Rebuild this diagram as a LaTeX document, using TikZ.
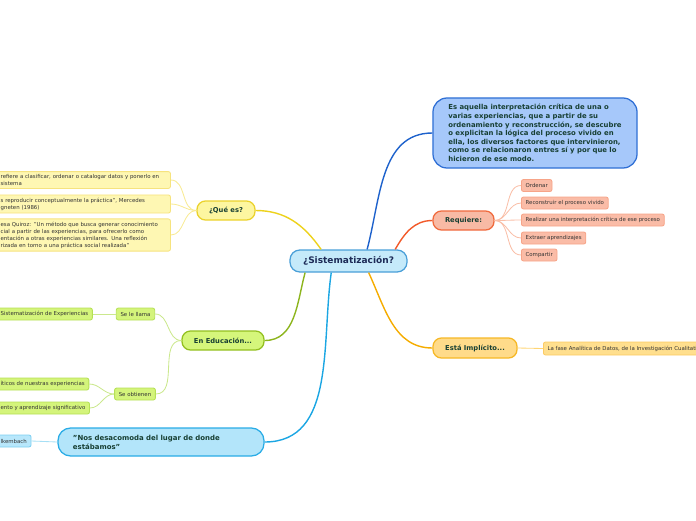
\documentclass[tikz,border=0pt]{standalone}
\usepackage{fontspec}
\setmainfont{DejaVu Sans}
\usetikzlibrary{positioning}
\definecolor{sisfill}{HTML}{C5EAFA}
\definecolor{sisline}{HTML}{4A9FD8}
\definecolor{sisink}{HTML}{1D2B57}
\definecolor{topicink}{HTML}{173F33}
\definecolor{leafink}{HTML}{333333}
\definecolor{deffill}{HTML}{A6C8FA}
\definecolor{defline}{HTML}{2F6FD5}
\definecolor{defwire}{HTML}{1E62CC}
\definecolor{reqfill}{HTML}{F8BAA5}
\definecolor{reqline}{HTML}{F06A3D}
\definecolor{reqwire}{HTML}{F25A2A}
\definecolor{reqleaf}{HTML}{FABCA7}
\definecolor{reqedge}{HTML}{F7A488}
\definecolor{reqtwig}{HTML}{F9BFA8}
\definecolor{impfill}{HTML}{FFDB8A}
\definecolor{impline}{HTML}{F6B826}
\definecolor{impwire}{HTML}{F5AC00}
\definecolor{impleaf}{HTML}{FFDF8E}
\definecolor{impedge}{HTML}{FCCB63}
\definecolor{imptwig}{HTML}{FFD574}
\definecolor{quefill}{HTML}{FDF6A0}
\definecolor{queline}{HTML}{EBD22C}
\definecolor{quewire}{HTML}{EDD21C}
\definecolor{queleaf}{HTML}{FEF7B3}
\definecolor{queedge}{HTML}{F6E37E}
\definecolor{quetwig}{HTML}{F8EA93}
\definecolor{edufill}{HTML}{D5F67B}
\definecolor{eduline}{HTML}{93C020}
\definecolor{eduwire}{HTML}{8DB51E}
\definecolor{eduleaf}{HTML}{D4F47B}
\definecolor{eduedge}{HTML}{B5E055}
\definecolor{edutwig}{HTML}{CBE88D}
\definecolor{nosfill}{HTML}{B3E5FA}
\definecolor{nosline}{HTML}{29ACE6}
\definecolor{noswire}{HTML}{1BA6E3}
\definecolor{nosleaf}{HTML}{B8E7FB}
\definecolor{nosedge}{HTML}{7CCFF1}
\definecolor{nostwig}{HTML}{A6DFF5}

\begin{document}
\begin{tikzpicture}[
                x=0.025cm, y=0.025cm,
                topic/.style={rounded corners=6pt, line width=0.9pt, inner sep=0pt,
                              minimum height=0.475cm, text=topicink,
                              font=\fontsize{4.8}{6}\selectfont\bfseries},
                leaf/.style={rounded corners=1.5pt, line width=0.6pt, align=left,
                             inner xsep=3pt, inner ysep=2pt, minimum height=0.3cm,
                             text=leafink, font=\fontsize{3.85}{5}\selectfont},
                branch/.style={line width=1pt},
                twig/.style={line width=0.6pt}
            ]

            \useasboundingbox (0,0) rectangle (696,-520);
            \clip (0,0) rectangle (696,-520);

            \node[draw=sisline, fill=sisfill, rounded corners=7pt, line width=0.9pt,
                  minimum width=2.925cm, minimum height=0.55cm, inner sep=0pt,
                  text=sisink, font=\fontsize{6.4}{8}\selectfont\bfseries] (sis) at (348.5,-261)
                {¿Sistematización?};

            % right side
            \node[draw=defline, fill=deffill, rounded corners=10pt, line width=0.9pt,
                  minimum width=5.1cm, minimum height=1.75cm, inner sep=0pt,
                  align=left, text=topicink,
                  font=\fontsize{4.9}{6.1}\selectfont\bfseries] (def) at (535,-133)
                {Es aquella interpretación crítica de una o\\
                 varias experiencias, que a partir de su\\
                 ordenamiento y reconstrucción, se descubre\\
                 o explicitan la lógica del proceso vivido en\\
                 ella, los diversos factores que intervinieron,\\
                 como se relacionaron entres sí y por que lo\\
                 hicieron de ese modo.};

            \node[topic, draw=reqline, fill=reqfill, minimum width=1.525cm] (req) at (463.5,-220.5) {Requiere:};
            \node[leaf, draw=reqedge, fill=reqleaf, anchor=west] (r1) at (521,-185.5) {Ordenar};
            \node[leaf, draw=reqedge, fill=reqleaf, anchor=west] (r2) at (521,-203) {Reconstruir el proceso vivido};
            \node[leaf, draw=reqedge, fill=reqleaf, anchor=west] (r3) at (521,-220) {Realizar una interpretación crítica de ese proceso};
            \node[leaf, draw=reqedge, fill=reqleaf, anchor=west] (r4) at (521,-238) {Extraer aprendizajes};
            \node[leaf, draw=reqedge, fill=reqleaf, anchor=west] (r5) at (521,-255) {Compartir};

            \node[topic, draw=impline, fill=impfill, minimum width=2.1cm, minimum height=0.5cm] (imp) at (475,-348) {Está Implícito...};
            \node[leaf, draw=impedge, fill=impleaf, anchor=west, minimum height=0.325cm] (i1) at (543,-348.5)
                {La fase Analítica de Datos, de la Investigación Cualitativa};

            % left side
            \node[topic, draw=queline, fill=quefill, minimum width=1.45cm] (que) at (226,-210.5) {¿Qué es?};
            \node[leaf, draw=queedge, fill=queleaf, anchor=west, text width=4.14cm] (q1) at (-4,-180)
                {refiere a clasificar, ordenar o catalogar datos y ponerlo en\\sistema};
            \node[leaf, draw=queedge, fill=queleaf, anchor=west, text width=4.14cm] (q2) at (-4,-204)
                {s reproducir  conceptualmente la práctica", Mercedes\\gneten (1986)};
            \node[leaf, draw=queedge, fill=queleaf, anchor=west, text width=4.14cm] (q3) at (-4,-235)
                {esa Quiroz: "Un método que busca generar conocimiento\\
                 cial a partir de las experiencias, para ofrecerlo como\\
                 entación a otras experiencias similares. Una reflexión\\
                 rizada en torno a una práctica social realizada"};

            \node[topic, draw=eduline, fill=edufill, minimum width=2.05cm] (edu) at (223,-340.5) {En Educación...};
            \node[leaf, draw=eduedge, fill=eduleaf] (llama) at (135.5,-314) {Se le llama};
            \node[leaf, draw=eduedge, fill=eduleaf, anchor=west] (e1) at (-4,-314) {Sistematización de Experiencias};
            \node[leaf, draw=eduedge, fill=eduleaf] (obt) at (135,-394) {Se obtienen};
            \node[leaf, draw=eduedge, fill=eduleaf, anchor=west] (o1) at (-4,-384) {íticos de nuestras experiencias};
            \node[leaf, draw=eduedge, fill=eduleaf, anchor=west] (o2) at (-4,-408) {ento y aprendizaje significativo};

            \node[draw=nosline, fill=nosfill, rounded corners=9pt, line width=0.9pt,
                  minimum width=5.15cm, minimum height=0.7cm, inner sep=0pt,
                  text width=4.4cm, align=left, text=topicink,
                  font=\fontsize{4.95}{6.3}\selectfont\bfseries] (nos) at (161,-442)
                {"Nos desacomoda del lugar de donde\\estábamos"};
            \node[leaf, draw=nosedge, fill=nosleaf, anchor=west] (n1) at (-4,-441) {lkembach};

            % branches
            \draw[branch, defwire] (sis.32) to[out=75, in=180] (def.west);
            \draw[branch, reqwire] (sis.14) to[out=60, in=180] (req.west);
            \draw[branch, impwire] (sis.-30) to[out=-65, in=180] (imp.west);
            \draw[branch, quewire] (sis.157) to[out=125, in=0] (que.east);
            \draw[branch, eduwire] (sis.195) to[out=-105, in=0] (edu.east);
            \draw[branch, noswire] (sis.214) to[out=-98, in=0] (nos.east);

            \foreach \k in {r1,r2,r3,r4,r5}
                \draw[twig, reqtwig] (req.east) to[out=0, in=180] (\k.west);
            \draw[twig, imptwig] (imp.east) -- (i1.west);
            \foreach \k in {q1,q2,q3}
                \draw[twig, quetwig] (que.west) to[out=180, in=0] (\k.east);
            \draw[twig, edutwig] (edu.west) to[out=180, in=0] (llama.east);
            \draw[twig, edutwig] (edu.west) to[out=180, in=0] (obt.east);
            \draw[twig, edutwig] (llama.west) -- (e1.east);
            \draw[twig, edutwig] (obt.west) to[out=180, in=0] (o1.east);
            \draw[twig, edutwig] (obt.west) to[out=180, in=0] (o2.east);
            \draw[twig, nostwig] (nos.west) -- (n1.east);

            \end{tikzpicture}
\end{document}
